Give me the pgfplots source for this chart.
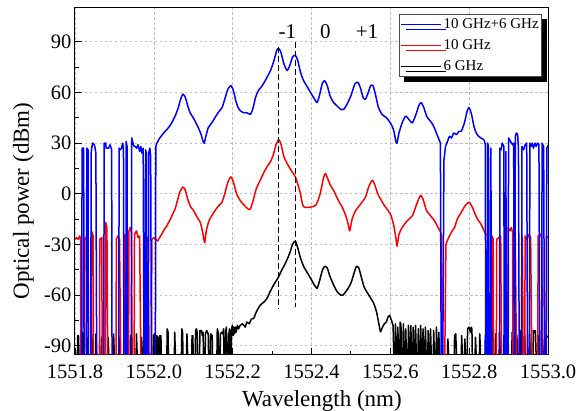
\documentclass[border=0pt]{standalone}
\usepackage{pgfplots}
\pgfplotsset{compat=1.18}
\usepackage{fontspec}
\setmainfont{Liberation Serif}
\usetikzlibrary{shadows}
\begin{document}
\begin{tikzpicture}
\begin{axis}[
  scale only axis, width=473pt, height=347pt,
  xmin=1551.8, xmax=1553.0, ymin=-95.5, ymax=110,
  xtick={1551.8,1552.0,1552.2,1552.4,1552.6,1552.8,1553.0},
  ytick={-90,-60,-30,0,30,60,90},
  minor x tick num=1, minor y tick num=1,
  tick align=inside, xtick pos=bottom, ytick pos=left,
  major tick length=7pt, minor tick length=4pt,
  tick style={black, line width=0.9pt},
  axis line style={line width=1pt},
  grid=major, major grid style={dash pattern=on 2.5pt off 2.5pt, gray!50, line width=0.6pt},
  /pgf/number format/assume math mode=true,
  xticklabel style={/pgf/number format/.cd, fixed, fixed zerofill, precision=1, 1000 sep={}, /tikz/.cd, anchor=base, yshift=-24pt},
  yticklabel style={/pgf/number format/.cd, fixed, precision=0},
  ticklabel style={font=\rmfamily\fontsize{20.5}{24}\selectfont},
  label style={font=\rmfamily\fontsize{23}{26}\selectfont},
  xlabel={Wavelength (nm)}, ylabel={Optical power (dBm)},
  xlabel style={at={(axis description cs:0.522,-0.147)}, anchor=base},
  ylabel style={at={(axis description cs:-0.0973,0.444)}, anchor=base},
  legend style={at={(1,1)}, anchor=north east, xshift=-6pt, yshift=-6pt,
    draw=black!70, fill=white, line width=0.6pt,
    font=\rmfamily\fontsize{15}{17}\selectfont, inner xsep=1pt, inner ysep=2.5pt, row sep=5.5pt,
    drop shadow={shadow xshift=5pt, shadow yshift=-5pt, fill=black, opacity=1}},
  legend cell align=left,
  legend image code/.code={\draw[#1, line width=1.3pt] (0pt,0pt) -- (40pt,0pt);},
  every axis plot/.append style={line width=1.5pt, line join=round},
]
\addlegendimage{blue}\addlegendentry{10 GHz+6 GHz}
\addlegendimage{red}\addlegendentry{10 GHz}
\addlegendimage{black}\addlegendentry{6 GHz}

% ---------- 6 GHz ----------
\addplot[black, forget plot] coordinates {
(1551.800,-97) (1551.806,-97) (1551.807,-84) (1551.809,-84) (1551.810,-97) (1551.818,-97) (1551.819,-82) (1551.821,-83) (1551.822,-97) (1551.830,-97) (1551.831,-85) (1551.833,-97) (1551.840,-97) (1551.841,-81) (1551.843,-84) (1551.844,-97) (1551.852,-97) (1551.853,-83) (1551.855,-97) (1551.866,-97) (1551.867,-86) (1551.870,-84) (1551.871,-97) (1551.883,-97) (1551.884,-85) (1551.886,-97) (1551.897,-97) (1551.898,-83) (1551.900,-97) (1551.912,-97) (1551.913,-85) (1551.915,-97) (1551.925,-97) (1551.926,-82) (1551.928,-97) (1551.940,-97) (1551.941,-84) (1551.943,-97) (1551.955,-97) (1551.956,-83) (1551.958,-97) (1551.968,-97) (1551.969,-85) (1551.971,-97) (1551.983,-97) (1551.984,-82) (1551.986,-97) (1551.998,-97) (1551.999,-84) (1552.002,-83) (1552.003,-97) (1552.006,-97) (1552.007,-84) (1552.010,-85) (1552.011,-97) (1552.014,-97) (1552.015,-84) (1552.018,-84) (1552.019,-97) (1552.033,-97) (1552.034,-80) (1552.036,-82) (1552.037,-97) (1552.052,-97) (1552.053,-82) (1552.055,-97) (1552.070,-97) (1552.071,-80) (1552.073,-82) (1552.074,-97) (1552.083,-97) (1552.084,-83) (1552.086,-97) (1552.096,-97) (1552.097,-84) (1552.099,-84) (1552.100,-97) (1552.105,-97) (1552.106,-81) (1552.108,-80) (1552.110,-82) (1552.111,-97) (1552.116,-97) (1552.117,-81) (1552.121,-81) (1552.123,-84) (1552.125,-82) (1552.126,-97) (1552.130,-97) (1552.131,-83) (1552.134,-81) (1552.138,-83) (1552.139,-97) (1552.143,-97) (1552.144,-83) (1552.148,-84) (1552.149,-97) (1552.160,-97) (1552.161,-80) (1552.163,-82) (1552.165,-97) (1552.168,-97) (1552.169,-83) (1552.172,-82) (1552.175,-83) (1552.177,-80) (1552.178,-97) (1552.181,-97) (1552.182,-82) (1552.184,-79) (1552.186,-97) (1552.189,-97) (1552.190,-84) (1552.192,-80) (1552.194,-97) (1552.196,-97) (1552.197,-81) (1552.199,-78) (1552.201,-84) (1552.203,-79) (1552.205,-83) (1552.207,-79) (1552.209,-82) (1552.212,-78) (1552.215,-80) (1552.219,-78) (1552.225,-77) (1552.232,-79) (1552.236,-76) (1552.242,-77) (1552.248,-74)
};
\addplot[black, smooth, tension=0.4, forget plot] coordinates {
(1552.248,-74) (1552.253,-74) (1552.260,-70) (1552.270,-66) (1552.280,-64) (1552.287,-62) (1552.295,-58) (1552.304,-54) (1552.312,-51) (1552.317,-49) (1552.325,-45) (1552.332,-42) (1552.338,-39) (1552.345,-35) (1552.352,-30) (1552.359,-28) (1552.365,-32) (1552.372,-38) (1552.380,-43) (1552.390,-47) (1552.400,-51) (1552.407,-54) (1552.414,-56) (1552.420,-52) (1552.428,-45) (1552.434,-43) (1552.440,-44) (1552.447,-49) (1552.456,-54) (1552.465,-58) (1552.474,-60) (1552.480,-60) (1552.490,-57) (1552.500,-53) (1552.508,-47) (1552.514,-43) (1552.520,-44) (1552.526,-49) (1552.533,-55) (1552.540,-58) (1552.548,-61) (1552.558,-65) (1552.565,-70) (1552.570,-76) (1552.575,-82)
};
\addplot[black, forget plot] coordinates {
(1552.575,-82) (1552.580,-79) (1552.585,-77) (1552.590,-76) (1552.594,-73) (1552.598,-72) (1552.603,-75) (1552.607,-78)
(1552.609,-97) (1552.612,-97) (1552.613,-77) (1552.615,-97) (1552.618,-97) (1552.619,-79) (1552.621,-97) (1552.624,-97) (1552.625,-76) (1552.627,-78) (1552.628,-97) (1552.632,-97) (1552.633,-77) (1552.635,-97) (1552.638,-97) (1552.639,-80) (1552.641,-97) (1552.645,-97) (1552.646,-78) (1552.648,-97) (1552.651,-97) (1552.652,-78) (1552.654,-97) (1552.657,-97) (1552.658,-79) (1552.660,-97) (1552.663,-97) (1552.664,-78) (1552.666,-97) (1552.670,-97) (1552.671,-80) (1552.673,-97) (1552.676,-97) (1552.677,-78) (1552.679,-97) (1552.682,-97) (1552.683,-80) (1552.685,-97) (1552.688,-97) (1552.689,-79) (1552.691,-97) (1552.695,-97) (1552.696,-81) (1552.698,-97) (1552.701,-97) (1552.702,-80) (1552.704,-97) (1552.709,-97) (1552.710,-81) (1552.712,-97) (1552.716,-97) (1552.717,-79) (1552.719,-97) (1552.722,-97) (1552.723,-82) (1552.725,-97) (1552.745,-97) (1552.746,-86) (1552.748,-97) (1552.762,-97) (1552.763,-84) (1552.766,-83) (1552.768,-97) (1552.780,-97) (1552.781,-84) (1552.783,-97) (1552.788,-97) (1552.789,-86) (1552.791,-97) (1552.795,-97) (1552.796,-80) (1552.799,-79) (1552.801,-80) (1552.803,-82) (1552.805,-79) (1552.807,-80) (1552.808,-97) (1552.815,-97) (1552.816,-85) (1552.818,-97) (1552.826,-97) (1552.827,-83) (1552.829,-97) (1552.840,-97) (1552.841,-84) (1552.843,-97) (1552.850,-97) (1552.851,-82) (1552.853,-97) (1552.858,-97) (1552.859,-80) (1552.861,-97) (1552.866,-97) (1552.867,-83) (1552.869,-97) (1552.876,-97) (1552.877,-82) (1552.879,-97) (1552.887,-97) (1552.888,-84) (1552.890,-97) (1552.897,-97) (1552.898,-80) (1552.900,-97) (1552.908,-97) (1552.909,-82) (1552.911,-97) (1552.920,-97) (1552.921,-84) (1552.923,-97) (1552.930,-97) (1552.931,-81) (1552.933,-97) (1552.940,-97) (1552.941,-84) (1552.943,-97) (1552.952,-97) (1552.953,-83) (1552.955,-97) (1552.962,-97) (1552.963,-81) (1552.966,-82) (1552.968,-81) (1552.970,-97) (1552.975,-97) (1552.976,-84) (1552.978,-97) (1552.985,-97) (1552.986,-86) (1552.988,-97) (1552.993,-97) (1552.994,-85) (1552.996,-84) (1553.000,-85)
};

% ---------- 10 GHz ----------
\addplot[red, forget plot] coordinates {
(1551.800,-27) (1551.804,-26) (1551.808,-27) (1551.812,-25) (1551.814,-27) (1551.815,-100) (1551.824,-100) (1551.825,-27) (1551.830,-25) (1551.833,-27) (1551.834,-100) (1551.841,-100) (1551.842,-22) (1551.846,-25) (1551.847,-100) (1551.862,-100) (1551.863,-27) (1551.868,-26) (1551.869,-100) (1551.877,-100) (1551.878,-17) (1551.881,-20) (1551.883,-100) (1551.904,-100) (1551.905,-27) (1551.909,-25) (1551.913,-27) (1551.916,-100) (1551.925,-100) (1551.926,-24) (1551.929,-26) (1551.931,-100) (1551.936,-100) (1551.937,-22) (1551.940,-20) (1551.943,-23) (1551.945,-100) (1551.950,-100) (1551.951,-24) (1551.956,-22) (1551.960,-26) (1551.964,-25) (1551.967,-100) (1551.976,-100) (1551.977,-27) (1551.981,-25) (1551.985,-27) (1551.988,-100) (1551.994,-100) (1551.995,-27) (1552.000,-26) (1552.005,-27) (1552.010,-28) (1552.012,-27)
};
\addplot[red, smooth, tension=0.4, forget plot] coordinates {
(1552.012,-27) (1552.020,-24) (1552.027,-21) (1552.033,-19) (1552.042,-15) (1552.050,-11) (1552.054,-9) (1552.060,-4) (1552.066,1) (1552.074,4) (1552.080,2) (1552.087,-4) (1552.094,-8) (1552.101,-10) (1552.110,-14) (1552.118,-17) (1552.124,-23) (1552.129,-29) (1552.133,-22) (1552.140,-16) (1552.147,-13) (1552.155,-10) (1552.165,-7) (1552.173,-5) (1552.180,0) (1552.188,7) (1552.196,10) (1552.203,6) (1552.210,0) (1552.219,-4) (1552.230,-7) (1552.239,-9) (1552.245,-9) (1552.252,-4) (1552.260,3) (1552.270,8) (1552.280,13) (1552.290,17) (1552.296,19) (1552.303,23) (1552.310,29) (1552.317,32) (1552.323,29) (1552.330,22) (1552.338,18) (1552.348,14) (1552.359,10) (1552.366,5) (1552.372,0) (1552.377,-6) (1552.382,-8) (1552.395,-8) (1552.410,-7) (1552.418,-3) (1552.423,1) (1552.430,9) (1552.435,12) (1552.441,9) (1552.448,5) (1552.456,2) (1552.466,-3) (1552.478,-8) (1552.487,-13) (1552.493,-18) (1552.497,-22) (1552.503,-15) (1552.512,-10) (1552.525,-6) (1552.537,-2) (1552.545,4) (1552.554,8) (1552.561,5) (1552.568,0) (1552.575,-3) (1552.585,-7) (1552.600,-12) (1552.608,-18) (1552.614,-26) (1552.617,-31) (1552.622,-24) (1552.630,-20) (1552.643,-16) (1552.656,-13) (1552.664,-8) (1552.672,-3) (1552.678,-1) (1552.684,-4) (1552.692,-10) (1552.702,-13) (1552.712,-16) (1552.719,-19) (1552.726,-22) (1552.730,-24)
};
\addplot[red, forget plot] coordinates {
(1552.730,-24) (1552.732,-100) (1552.738,-100) (1552.741,-30) (1552.744,-28)
};
\addplot[red, smooth, tension=0.4, forget plot] coordinates {
(1552.744,-28) (1552.750,-25) (1552.757,-22) (1552.763,-20) (1552.770,-15) (1552.780,-11) (1552.790,-7) (1552.800,-5) (1552.808,-8) (1552.815,-12) (1552.821,-15) (1552.830,-18) (1552.838,-22) (1552.842,-24)
};
\addplot[red, forget plot] coordinates {
(1552.842,-24) (1552.846,-24) (1552.847,-100) (1552.857,-100) (1552.858,-25) (1552.861,-27) (1552.862,-100) (1552.869,-100) (1552.870,-27) (1552.875,-26) (1552.880,-25) (1552.882,-100) (1552.898,-100) (1552.899,-20) (1552.903,-22) (1552.907,-20) (1552.910,-23) (1552.911,-100) (1552.916,-100) (1552.917,-26) (1552.920,-100) (1552.934,-100) (1552.935,-26) (1552.937,-100) (1552.941,-100) (1552.942,-25) (1552.947,-27) (1552.952,-24) (1552.956,-26) (1552.959,-100) (1552.974,-100) (1552.975,-25) (1552.980,-24) (1552.984,-26) (1552.986,-100) (1552.995,-100) (1552.996,-25) (1553.001,-26)
};

% ---------- 10 GHz + 6 GHz ----------
\addplot[blue, forget plot] coordinates {
(1551.817,-100) (1551.818,27) (1551.822,27) (1551.823,-100) (1551.829,-100) (1551.830,27) (1551.833,26) (1551.834,-100) (1551.840,-100) (1551.841,24) (1551.843,28) (1551.845,30) (1551.849,29) (1551.851,27) (1551.853,24) (1551.855,-100) (1551.873,-100) (1551.874,30) (1551.878,30) (1551.879,27) (1551.885,27) (1551.889,29) (1551.893,26) (1551.894,-100) (1551.911,-100) (1551.912,27) (1551.915,26) (1551.918,27) (1551.921,30) (1551.923,27) (1551.924,-100) (1551.929,-100) (1551.930,31) (1551.932,28) (1551.933,-100) (1551.943,-100) (1551.944,33) (1551.947,30) (1551.950,28) (1551.953,28) (1551.956,27) (1551.960,29) (1551.964,25) (1551.967,28) (1551.970,24) (1551.973,27) (1551.975,-100) (1551.978,-100) (1551.979,26) (1551.981,24) (1551.982,-100) (1551.986,-100) (1551.987,24) (1551.990,27) (1551.992,22) (1551.994,-100) (1552.004,-100) (1552.005,28) (1552.008,30)
};
\addplot[blue, smooth, tension=0.4, forget plot] coordinates {
(1552.008,30) (1552.015,33) (1552.025,36) (1552.033,38) (1552.043,41) (1552.054,46) (1552.062,51) (1552.068,56) (1552.074,59) (1552.080,57) (1552.086,52) (1552.092,48) (1552.100,45) (1552.109,41) (1552.115,38) (1552.120,35) (1552.125,31) (1552.128,30) (1552.132,34) (1552.138,39) (1552.147,42) (1552.155,45) (1552.163,48) (1552.173,51) (1552.180,56) (1552.188,62) (1552.196,64) (1552.202,61) (1552.208,55) (1552.214,51) (1552.220,49) (1552.227,48) (1552.236,48) (1552.245,47) (1552.252,51) (1552.258,57) (1552.265,61) (1552.275,64) (1552.285,68) (1552.296,73) (1552.305,79) (1552.312,85) (1552.317,86) (1552.322,84) (1552.330,77) (1552.338,73) (1552.345,76) (1552.352,81) (1552.359,82) (1552.365,79) (1552.372,72) (1552.380,67) (1552.390,63) (1552.400,59) (1552.408,56) (1552.414,54) (1552.420,58) (1552.427,65) (1552.433,67) (1552.440,64) (1552.447,58) (1552.456,54) (1552.465,52) (1552.474,50) (1552.482,50) (1552.490,53) (1552.500,58) (1552.510,65) (1552.518,66) (1552.525,62) (1552.531,57) (1552.537,56) (1552.544,60) (1552.550,64) (1552.556,64) (1552.563,58) (1552.570,51) (1552.579,47) (1552.590,45) (1552.600,42) (1552.608,38) (1552.614,31) (1552.617,30) (1552.622,36) (1552.630,42) (1552.639,46) (1552.647,44) (1552.656,42) (1552.665,47) (1552.672,52) (1552.678,54) (1552.685,51) (1552.692,46) (1552.698,44) (1552.705,42) (1552.712,39) (1552.715,37) (1552.722,33) (1552.727,30)
};
\addplot[blue, forget plot] coordinates {
(1552.727,30) (1552.729,-100) (1552.733,-100) (1552.736,20) (1552.740,28)
};
\addplot[blue, smooth, tension=0.4, forget plot] coordinates {
(1552.740,28) (1552.745,31) (1552.750,34) (1552.755,33) (1552.761,36) (1552.768,35) (1552.774,37) (1552.780,37) (1552.788,42) (1552.795,49) (1552.800,51) (1552.806,47) (1552.812,40) (1552.818,36) (1552.824,34) (1552.830,33) (1552.838,32)
};
\addplot[blue, forget plot] coordinates {
(1552.838,32) (1552.841,29) (1552.842,-100) (1552.846,-100) (1552.847,30) (1552.849,28) (1552.850,-100) (1552.854,-100) (1552.855,27) (1552.857,-100) (1552.877,-100) (1552.878,27) (1552.881,26) (1552.884,30) (1552.888,28) (1552.889,-100) (1552.892,-100) (1552.893,25) (1552.895,-100) (1552.899,-100) (1552.900,33) (1552.905,31) (1552.910,29) (1552.913,30) (1552.914,-100) (1552.916,-100) (1552.917,34) (1552.920,36) (1552.923,35) (1552.925,27) (1552.927,-100) (1552.933,-100) (1552.934,28) (1552.938,26) (1552.942,29) (1552.946,30) (1552.948,-100) (1552.953,-100) (1552.954,30) (1552.957,28) (1552.960,30) (1552.963,27) (1552.967,30) (1552.970,28) (1552.974,30) (1552.977,29) (1552.979,-100) (1552.984,-100) (1552.985,30) (1552.989,28) (1552.991,-100) (1552.996,-100) (1552.997,27) (1553.001,29)
};

% dashed markers
\addplot[black, dash pattern=on 6pt off 3pt, line width=1.2pt, forget plot] coordinates {(1552.317,87) (1552.317,-68)};
\addplot[black, dash pattern=on 6pt off 3pt, line width=1.2pt, forget plot] coordinates {(1552.359,90) (1552.359,-67)};

\node[font=\rmfamily\fontsize{21}{24}\selectfont] at (axis cs:1552.339,96) {-1};
\node[font=\rmfamily\fontsize{21}{24}\selectfont] at (axis cs:1552.435,96) {0};
\node[font=\rmfamily\fontsize{21}{24}\selectfont] at (axis cs:1552.541,96) {+1};
\end{axis}
\pgfresetboundingbox
\useasboundingbox (-75pt,-56pt) rectangle (504pt,355pt);
\end{tikzpicture}
\end{document}
